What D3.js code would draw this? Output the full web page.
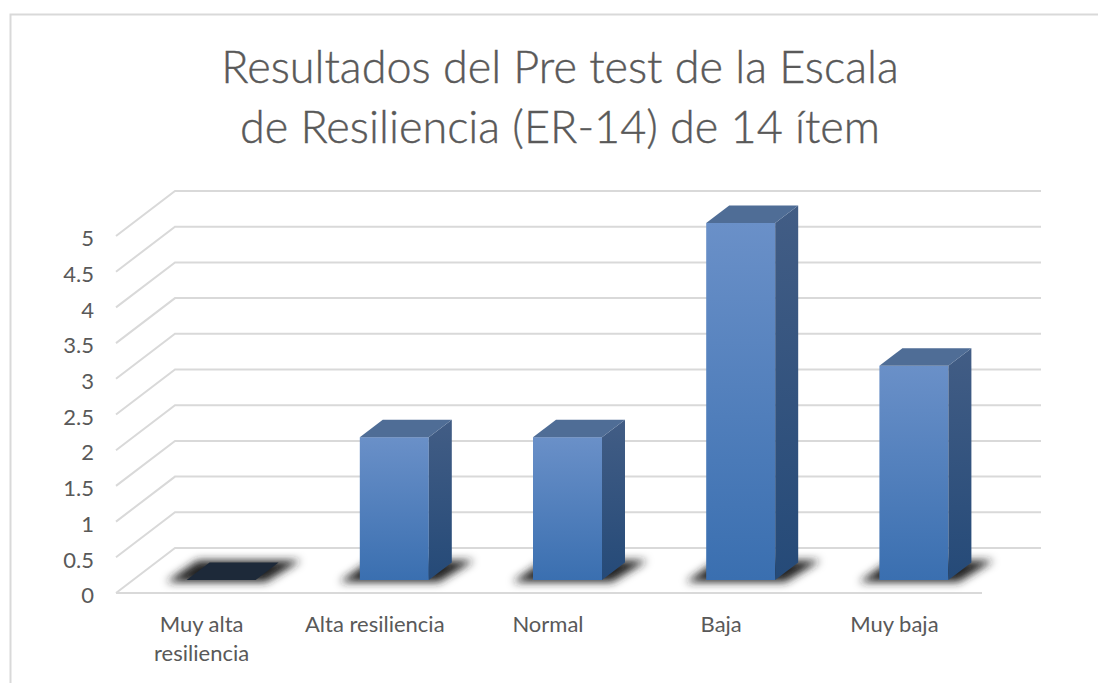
<!DOCTYPE html>
<html><head><meta charset="utf-8">
<script src="https://cdn.jsdelivr.net/npm/d3@7/dist/d3.min.js"></script>
<style>html,body{margin:0;padding:0;background:#fff}svg{display:block}</style></head>
<body><div id="chart"></div>
<script>
const categories=[["Muy alta","resiliencia"],["Alta resiliencia"],["Normal"],["Baja"],["Muy baja"]];
const values=[0,2,2,5,3];
const tickValues=[0,0.5,1,1.5,2,2.5,3,3.5,4,4.5,5];
const titleLines=["Resultados del Pre test de la Escala","de Resiliencia (ER-14) de 14 ítem"];

const W=1098,H=683;
const svg=d3.select("#chart").append("svg").attr("width",W).attr("height",H);
const defs=svg.append("defs");
const FONT="Lato, Carlito, 'Open Sans', sans-serif";

const grad=(id,a,b)=>{const g=defs.append("linearGradient").attr("id",id).attr("x1",0).attr("x2",0).attr("y1",0).attr("y2",1);
 g.append("stop").attr("offset",0).attr("stop-color",a);g.append("stop").attr("offset",1).attr("stop-color",b);};
grad("front","#6a90c8","#3a6fb0");
grad("side","#425d85","#254a78");
defs.append("filter").attr("id","blur").attr("x","-30%").attr("y","-80%").attr("width","160%").attr("height","260%")
  .append("feGaussianBlur").attr("stdDeviation",4.5);

// chart frame: top and left edges only
svg.append("path").attr("d","M10.5,683V14.5H1098").attr("fill","none").attr("stroke","#d9d9d9").attr("stroke-width",2);

// scales (front plane)
const y=d3.scaleLinear().domain([0,5]).range([593,236]);
const x=d3.scaleBand().domain(d3.range(categories.length)).range([116,982]);
const depthX=59,depthY=45;       // wall offset
const barDX=18.5,barDY=13;       // bar front offset from the front plane
const bw=69,bdX=23,bdY=17.5;     // bar width and bar depth

// gridlines
const grid=svg.append("g").attr("fill","none").attr("stroke","#d9d9d9").attr("stroke-width",2);
tickValues.forEach(t=>{
  const yf=y(t);
  grid.append("path").attr("d",`M${x.range()[0]},${yf}L${x.range()[0]+depthX},${yf-depthY}H${x.range()[1]+depthX}`);
});
grid.append("path").attr("d",`M${x.range()[0]},${y(0)}H${x.range()[1]}`);

// y axis
const yAxis=d3.axisLeft(y).tickValues(tickValues).tickSize(0).tickPadding(0).tickFormat(d=>String(d));
const ga=svg.append("g").attr("transform","translate(94,2)").call(yAxis);
ga.select(".domain").remove();
ga.selectAll("text").attr("font-family",FONT).attr("font-size",22).attr("fill","#595959").attr("text-anchor","end").attr("dy","0.35em");

// x labels
const xl=svg.append("g").attr("font-family",FONT).attr("font-size",22).attr("fill","#595959").attr("text-anchor","middle");
categories.forEach((c,i)=>{
  c.forEach((line,j)=>xl.append("text").attr("x",x(i)+x.bandwidth()/2-1).attr("y",632+j*29).text(line));
});

// bars
const bars=svg.append("g");
values.forEach((v,i)=>{
  const cx=x(i)+x.bandwidth()/2+barDX, l=cx-bw/2, r=cx+bw/2;
  const b=y(0)-barDY, t=y(v)-barDY;
  // shadow on the floor
  bars.append("path").attr("d",`M${l-20},${b+2}H${r+10}L${r+bdX+22},${b-bdY-2}H${l+bdX-12}Z`)
    .attr("fill","#222").attr("filter","url(#blur)");
  if(v===0){
    bars.append("path").attr("d",`M${l},${b}H${r}L${r+bdX},${b-bdY}H${l+bdX}Z`).attr("fill","#1d2939");
  } else {
    bars.append("rect").attr("x",l).attr("y",t).attr("width",bw).attr("height",b-t).attr("fill","url(#front)");
    bars.append("path").attr("d",`M${r},${t}L${r+bdX},${t-bdY}V${b-bdY}L${r},${b}Z`).attr("fill","url(#side)");
    bars.append("path").attr("d",`M${l},${t}H${r}L${r+bdX},${t-bdY}H${l+bdX}Z`).attr("fill","#4f6d96");
  }
});

// title
const title=svg.append("g").attr("font-family",FONT).attr("font-size",45).attr("font-weight",300).attr("fill","#595959").attr("stroke","#595959").attr("stroke-width",0.4).attr("text-anchor","middle");
titleLines.forEach((s,i)=>title.append("text").attr("x",560).attr("y",83+i*60).text(s));
</script></body></html>
